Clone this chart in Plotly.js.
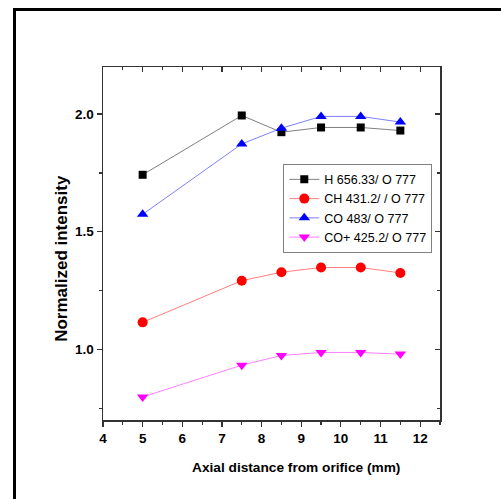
<!DOCTYPE html>
<html>
<head>
<meta charset="utf-8">
<script src="https://cdn.plot.ly/plotly-3.0.1.min.js"></script>
<style>
  html, body { margin: 0; padding: 0; background: #fff; }
  #wrap { position: relative; width: 501px; height: 499px; overflow: hidden; }
  #frame { position: absolute; left: 13px; top: 8px; width: 600px; height: 600px;
           border-left: 3px solid #000; border-top: 3px solid #000; pointer-events: none; z-index: 5; }
  #chart { position: absolute; left: 0; top: 0; width: 501px; height: 499px; }
</style>
</head>
<body>
<div id="wrap">
  <div id="chart"></div>
  <div id="frame"></div>
</div>
<script>
const distance = [5, 7.5, 8.5, 9.5, 10.5, 11.5];
const hRatio   = [1.742, 1.994, 1.923, 1.943, 1.943, 1.930];
const chRatio  = [1.115, 1.292, 1.328, 1.348, 1.348, 1.325];
const coRatio  = [1.574, 1.873, 1.940, 1.990, 1.990, 1.966];
const coPlusRatio = [0.798, 0.933, 0.974, 0.987, 0.987, 0.980];
const seriesNames = ["H 656.33/ O 777", "CH 431.2/ / O 777", "CO 483/ O 777", "CO+ 425.2/ O 777"];
const xTitle = 'Axial distance from orifice (mm)';
const yTitle = 'Normalized intensity';

const font = "Liberation Sans, Arial, sans-serif";

function tr(y, name, sym, mc, lc) {
  return {
    x: distance, y: y, name: name, type: 'scatter', mode: 'lines+markers',
    line: {color: lc, width: 1},
    marker: {symbol: sym, color: mc, size: sym === 'square' ? 8 : 10}
  };
}

const data = [
  tr(hRatio, seriesNames[0], 'square', '#000000', '#808080'),
  tr(chRatio, seriesNames[1], 'circle', '#ff0000', '#ff8080'),
  tr(coRatio, seriesNames[2], 'triangle-up', '#0000ff', '#8080ff'),
  tr(coPlusRatio, seriesNames[3], 'triangle-down', '#ff00ff', '#ff80ff'),
  {x: [4], y: [0.7], xaxis: 'x2', yaxis: 'y2', showlegend: false, mode: 'markers',
   marker: {opacity: 0}, hoverinfo: 'skip'}
];

const axisLine = '#333333';
const tickFont = {family: font, size: 13.5, weight: 700, color: '#000'};
const layout = {
  width: 501, height: 499,
  margin: {l: 103, r: 61, t: 67, b: 79},
  paper_bgcolor: '#ffffff', plot_bgcolor: '#ffffff',
  showlegend: true,
  legend: {
    x: 0.535, y: 0.726, xanchor: 'left', yanchor: 'top',
    bordercolor: '#808080', borderwidth: 1, bgcolor: '#ffffff',
    font: {family: font, size: 12.5, color: '#000'},
    tracegroupgap: 0, itemwidth: 30
  },
  xaxis: {
    range: [4, 12.5], dtick: 1, tick0: 4,
    ticks: 'outside', ticklen: 5, tickwidth: 1.2, tickcolor: axisLine,
    minor: {dtick: 0.5, ticks: 'outside', ticklen: 3, tickcolor: axisLine},
    showline: true, linecolor: axisLine, linewidth: 1.5, mirror: true,
    showgrid: false, zeroline: false,
    tickfont: tickFont
  },
  yaxis: {
    range: [0.7, 2.2], dtick: 0.5, tick0: 0,
    ticks: 'outside', ticklen: 5, tickwidth: 1.2, tickcolor: axisLine,
    minor: {dtick: 0.25, ticks: 'outside', ticklen: 3, tickcolor: axisLine},
    showline: true, linecolor: axisLine, linewidth: 1.5, mirror: true,
    showgrid: false, zeroline: false, tickformat: '.1f',
    tickfont: tickFont
  },
  xaxis2: {
    overlaying: 'x', side: 'top', anchor: 'y2', matches: 'x',
    range: [4, 12.5], dtick: 1, tick0: 4,
    ticks: 'inside', ticklen: 5, tickwidth: 1.2, tickcolor: axisLine,
    minor: {dtick: 0.5, ticks: 'inside', ticklen: 3, tickcolor: axisLine},
    showticklabels: false, showgrid: false, zeroline: false, showline: false
  },
  yaxis2: {
    overlaying: 'y', side: 'right', anchor: 'x2',
    range: [0.7, 2.2], dtick: 0.5, tick0: 0,
    ticks: 'inside', ticklen: 5, tickwidth: 1.2, tickcolor: axisLine,
    minor: {dtick: 0.25, ticks: 'inside', ticklen: 3, tickcolor: axisLine},
    showticklabels: false, showgrid: false, zeroline: false, showline: false
  },
  annotations: [
    {text: xTitle, xref: 'paper', yref: 'paper', x: 0.573, y: -0.135,
     xanchor: 'center', yanchor: 'middle', showarrow: false,
     font: {family: font, size: 13.7, weight: 700, color: '#000'}},
    {text: yTitle, xref: 'paper', yref: 'paper', x: -0.122, y: 0.459,
     xanchor: 'center', yanchor: 'middle', showarrow: false, textangle: -90,
     font: {family: font, size: 17, weight: 700, color: '#000'}}
  ]
};

Plotly.newPlot('chart', data, layout, {displayModeBar: false, staticPlot: true});
</script>
</body>
</html>
